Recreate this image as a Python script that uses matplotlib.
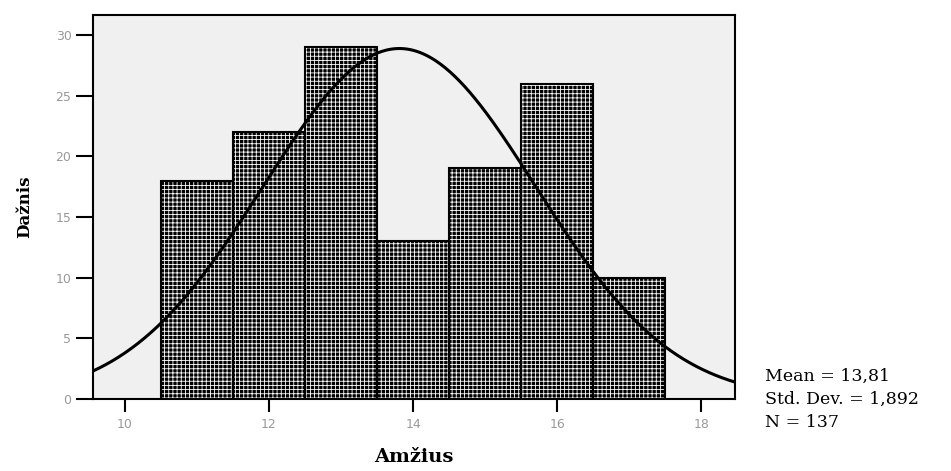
import numpy as np
import matplotlib
matplotlib.use('Agg')
import matplotlib.pyplot as plt

# histogram data (age bins of width 1)
bin_centers = [11, 12, 13, 14, 15, 16, 17]
counts = [18, 22, 29, 13, 19, 26, 10]
mean_val = 13.81
std_val = 1.892
n_total = 137

x_ticks = [10, 12, 14, 16, 18]
y_ticks = [0, 5, 10, 15, 20, 25, 30]

plt.rcParams['hatch.linewidth'] = 0.6

fig = plt.figure(figsize=(9.51, 4.71), dpi=100)
ax = fig.add_axes([93 / 951, 1 - 399 / 471, (735 - 93) / 951, (399 - 15) / 471])
ax.set_facecolor('#f0f0f0')

# black bars with white grid, then black outline on top
ax.bar(bin_centers, counts, width=1.0, color='black', edgecolor='white',
       hatch='++++', linewidth=0, zorder=2)
ax.bar(bin_centers, counts, width=1.0, fill=False, edgecolor='black',
       linewidth=1.5, zorder=3)

xlim = (9.556, 18.47)
xs = np.linspace(xlim[0], xlim[1], 400)
curve = n_total * 1.0 / (std_val * np.sqrt(2 * np.pi)) * np.exp(-0.5 * ((xs - mean_val) / std_val) ** 2)
ax.plot(xs, curve, color='black', linewidth=2.2, zorder=4)

ax.set_xlim(*xlim)
ax.set_ylim(0, 31.65)
ax.set_xticks(x_ticks)
ax.set_yticks(y_ticks)
ax.tick_params(direction='out', width=1.5, colors='black',
               labelcolor='#999999', labelsize=9)
ax.tick_params(axis='x', length=9, pad=5)
ax.tick_params(axis='y', length=12.5, pad=3)
for side in ['top', 'right', 'left', 'bottom']:
    ax.spines[side].set_linewidth(1.5)

ax.set_ylabel('Dažnis', family='DejaVu Serif', fontweight='bold', fontsize=12, labelpad=16)
ax.set_xlabel('Amžius', family='DejaVu Serif', fontweight='bold', fontsize=14, labelpad=12)

stats = 'Mean = 13,81\nStd. Dev. = 1,892\nN = 137'
fig.text(765 / 951, 1 - 368 / 471, stats, family='DejaVu Serif', fontsize=12.5,
         va='top', ha='left', linespacing=1.45)

fig.savefig('out.png', dpi=100)
